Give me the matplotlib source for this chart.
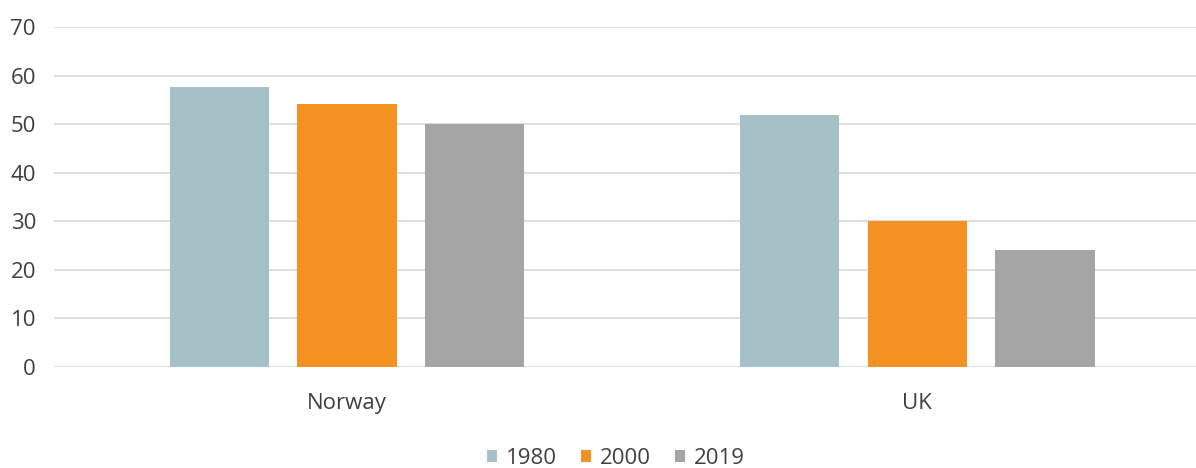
import numpy as np
import matplotlib
matplotlib.use("Agg")
import matplotlib.pyplot as plt

# Values
countries = ["Norway", "UK"]
years = ["1980", "2000", "2019"]
vals_1980 = [57.7, 51.9]
vals_2000 = [54.1, 30.0]
vals_2019 = [50.0, 24.1]

colors = ["#a5c0c6", "#f39123", "#a5a5a5"]

plt.rcParams["font.family"] = ["Open Sans", "DejaVu Sans"]
text_color = "#404040"
fs = 16

fig = plt.figure(figsize=(11.96, 4.68), dpi=100)
ax = fig.add_axes([54 / 1196, 101 / 468, 1142 / 1196, 340 / 468])

x = np.arange(len(countries))
width = 0.174
offset = 0.224
series = [vals_1980, vals_2000, vals_2019]
for i, (vals, year) in enumerate(zip(series, years)):
    ax.bar(x + (i - 1) * offset, vals, width, color=colors[i], label=year, zorder=3)

ax.set_ylim(0, 70)
ax.set_yticks(range(0, 71, 10))
ax.set_xlim(-0.514, 1.489)
ax.set_xticks(x)
ax.set_xticklabels(countries)

ax.grid(axis="y", color="#d9d9d9", linewidth=1.2, zorder=0)
for s in ax.spines.values():
    s.set_visible(False)
ax.tick_params(axis="both", length=0, labelsize=fs, colors=text_color)
ax.tick_params(axis="y", pad=13)
ax.tick_params(axis="x", pad=19)

fig.legend(loc="lower center", bbox_to_anchor=(0.515, -0.045), ncol=3, frameon=False,
           fontsize=fs, handlelength=0.45, handleheight=0.45, handletextpad=0.4,
           columnspacing=1.1, labelcolor=text_color)

fig.savefig("out.png", dpi=100)
